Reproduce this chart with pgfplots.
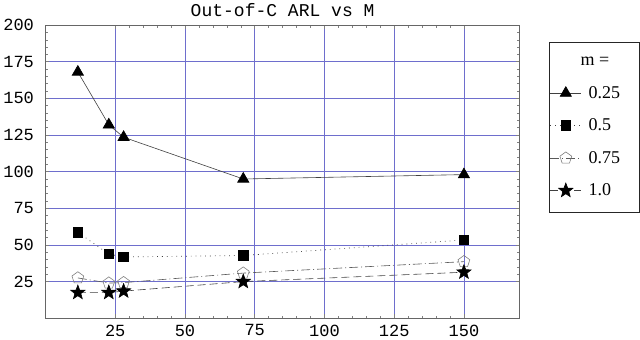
\documentclass[border=0pt]{standalone}
\usepackage{fontspec}
\setmainfont{Liberation Serif}
\newfontfamily\monofont{Liberation Mono}
\usepackage{pgfplots}
\pgfplotsset{compat=1.18}
\usetikzlibrary{plotmarks}
\definecolor{gridblue}{RGB}{110,110,205}
\pgfdeclareplotmark{fstar}{%
  \pgfpathmoveto{\pgfpointpolar{90}{\pgfplotmarksize}}%
  \pgfpathlineto{\pgfpointpolar{126}{0.42\pgfplotmarksize}}%
  \pgfpathlineto{\pgfpointpolar{162}{\pgfplotmarksize}}%
  \pgfpathlineto{\pgfpointpolar{198}{0.42\pgfplotmarksize}}%
  \pgfpathlineto{\pgfpointpolar{234}{\pgfplotmarksize}}%
  \pgfpathlineto{\pgfpointpolar{270}{0.42\pgfplotmarksize}}%
  \pgfpathlineto{\pgfpointpolar{306}{\pgfplotmarksize}}%
  \pgfpathlineto{\pgfpointpolar{342}{0.42\pgfplotmarksize}}%
  \pgfpathlineto{\pgfpointpolar{18}{\pgfplotmarksize}}%
  \pgfpathlineto{\pgfpointpolar{54}{0.42\pgfplotmarksize}}%
  \pgfpathclose
  \pgfusepathqfillstroke}
\begin{document}
\begin{tikzpicture}[x=1pt,y=1pt]
\begin{axis}[
  scale only axis,
  width=474pt, height=293pt,
  xmin=0, xmax=170, ymin=0, ymax=200,
  xtick={25,50,75,100,125,150},
  ytick={25,50,75,100,125,150,175,200},
  minor x tick num=4,
  minor y tick num=4,
  grid=major,
  major grid style={draw=gridblue, line width=0.8pt},
  axis line style={gray!80!black, line width=0.6pt},
  tick style={line width=0.5pt},
  major tick length=4pt,
  minor tick length=2.5pt,
  tick align=inside,
  /pgf/number format/assume math mode=true,
  tick label style={font=\monofont\fontsize{17}{17}\selectfont},
  yticklabel style={xshift=-8pt},
  xticklabel style={yshift=-3pt},
  title={\monofont\fontsize{18}{18}\selectfont Out-of-C ARL vs M},
  title style={yshift=-1pt},
  legend style={at={(1.061,0.942)}, anchor=north west, draw=black!85, line width=0.6pt,
    font=\fontsize{18}{18}\selectfont, row sep=15pt, inner xsep=1pt, inner ysep=13pt},
  legend cell align=left,
  legend image code/.code={%
    \draw[#1] (0pt,0pt) -- (31pt,0pt);
    \draw[#1,solid] plot coordinates {(15.5pt,0pt)};},
]
\addlegendimage{empty legend}
\addlegendentry{\makebox[53pt][l]{\hspace*{-3pt}m =}}
\addplot[black!75, line width=0.6pt, mark=triangle*, mark size=6.5pt, mark options={black, solid}]
  coordinates {(11.6,168) (22.7,132) (28,123.5) (70.9,95) (150,98)};
\addlegendentry{\makebox[53pt][l]{\hspace*{5pt}0.25}}
\addplot[black!75, line width=0.7pt, dash pattern=on 0.8pt off 4pt, mark=square*, mark size=4.8pt, mark options={black, solid}]
  coordinates {(11.6,58.6) (22.7,43.8) (28,41.8) (70.9,42.8) (150,53.4)};
\addlegendentry{\makebox[53pt][l]{\hspace*{5pt}0.5}}
\addplot[black!65, line width=0.6pt, dash pattern=on 9pt off 3pt on 1pt off 3pt, mark=pentagon, mark size=6.2pt, mark options={black!50, solid, fill=white}]
  coordinates {(11.6,27.5) (22.7,24) (28,24.3) (70.9,30.8) (150,38.6)};
\addlegendentry{\makebox[53pt][l]{\hspace*{5pt}0.75}}
\addplot[black!75, line width=0.6pt, dash pattern=on 8pt off 4pt, mark=fstar, mark size=7.5pt, mark options={black, solid, fill=black}]
  coordinates {(11.6,17.5) (22.7,17.5) (28,18.5) (70.9,25) (150,31.4)};
\addlegendentry{\makebox[53pt][l]{\hspace*{5pt}1.0}}
\end{axis}
\end{tikzpicture}
\end{document}
